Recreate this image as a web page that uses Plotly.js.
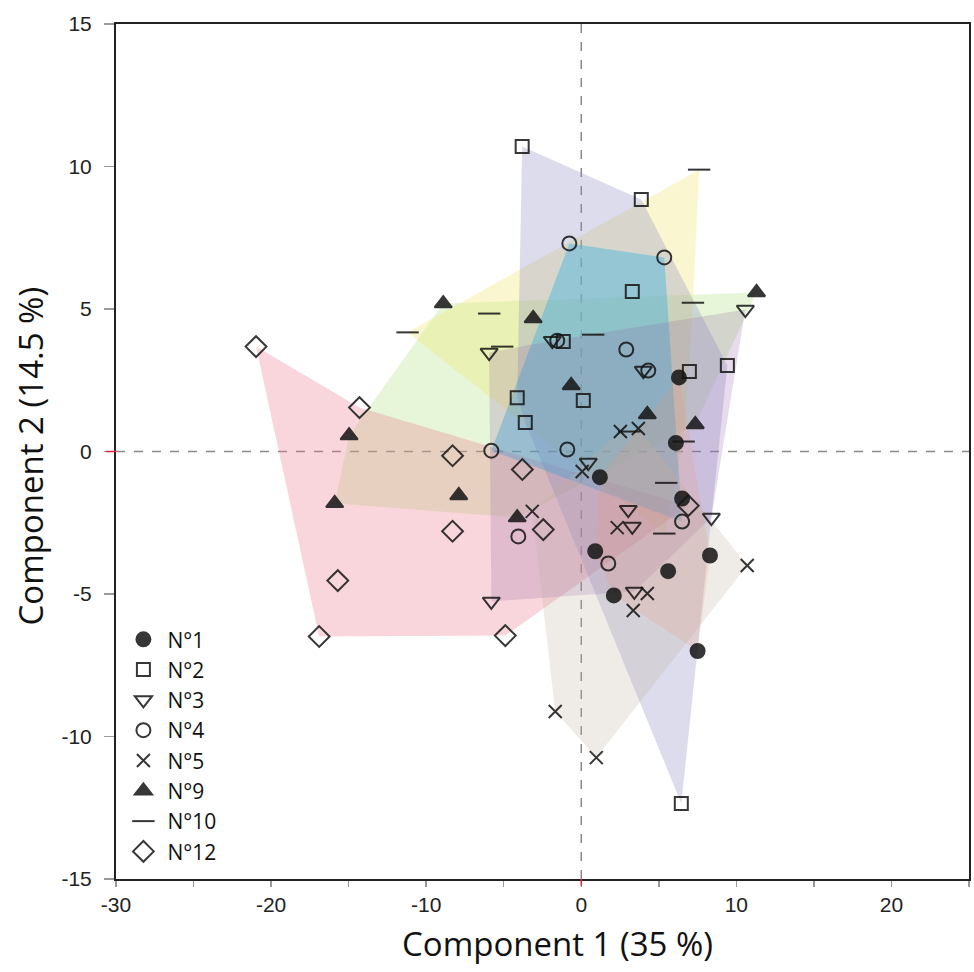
<!DOCTYPE html>
<html>
<head>
<meta charset="utf-8">
<script src="https://cdn.plot.ly/plotly-3.0.1.min.js"></script>
<style>html,body{margin:0;padding:0;background:#fff;}#chart{width:974px;height:972px;}</style>
</head>
<body>
<div id="chart"></div>
<script>
// ---- data (Component 1, Component 2) ----
const groupNames = ["N°1", "N°2", "N°3", "N°4", "N°5", "N°9", "N°10", "N°12"];

const n1x = [6.3, 6.1, 1.2, 6.5, 0.9, 8.3, 5.6, 2.1, 7.5];
const n1y = [2.6, 0.3, -0.9, -1.65, -3.5, -3.65, -4.2, -5.05, -7.0];

const n2x = [-3.81, 3.87, 3.29, 6.97, 9.42, -1.16, -4.13, -3.61, 0.13, 6.45];
const n2y = [10.70, 8.84, 5.61, 2.81, 3.02, 3.86, 1.89, 1.02, 1.79, -12.35];

const n3x = [10.58, -5.94, -1.87, 4.0, 0.45, 3.03, 3.29, 8.39, 3.42, -5.8];
const n3y = [4.98, 3.47, 3.89, 2.84, -0.39, -2.04, -2.63, -2.32, -4.91, -5.26];

const n4x = [-0.77, 5.35, 2.9, -1.55, 4.32, -5.8, -0.9, 6.5, 1.74, -4.06];
const n4y = [7.3, 6.81, 3.58, 3.89, 2.84, 0.03, 0.07, -2.46, -3.93, -2.98];

const n5x = [2.52, 3.68, 0.06, -3.16, 2.32, 10.7, 4.26, 3.35, -1.68, 0.97];
const n5y = [0.7, 0.81, -0.7, -2.1, -2.67, -4.0, -4.98, -5.58, -9.12, -10.74];

const n9x = [-8.9, -14.97, -3.1, 11.3, -0.65, 4.26, 7.35, -15.9, -7.9, -4.13];
const n9y = [5.19, 0.56, 4.67, 5.58, 2.32, 1.3, 0.95, -1.82, -1.54, -2.32];

const n10x = [-11.2, -5.94, -5.1, 0.77, 7.6, 7.2, 6.6, 5.48, 5.35, 3.1];
const n10y = [4.18, 4.84, 3.68, 4.1, 9.89, 5.22, 0.35, -1.1, -2.88, 0.7];

const n12x = [-20.97, -14.3, -8.3, -3.8, -8.3, -2.45, -15.7, -16.9, -4.9, 6.9];
const n12y = [3.68, 1.54, -0.15, -0.63, -2.8, -2.74, -4.53, -6.49, -6.46, -1.9];

// outline of each group's shaded area (indices into the group's points)
const hull1 = [0, 5, 8, 7, 4, 2];
const hull2 = [0, 1, 4, 9, 7, 6];
const hull3 = [0, 7, 8, 9, 1, 2];
const hull4 = [0, 1, 7, 5];
const hull5 = [0, 1, 5, 9, 8, 3];
const hull9 = [0, 3, 6, 9, 7, 1];
const hull10 = [0, 4, 5, 6, 8];
const hull12 = [0, 1, 9, 8, 7];

const tickValsX = [-30, -20, -10, 0, 10, 20];
const tickTextX = ["-30", "-20", "-10", "0", "10", "20"];
const tickValsY = [-15, -10, -5, 0, 5, 10, 15];
const tickTextY = ["-15", "-10", "-5", "0", "5", "10", "15"];

// ---- styles ----
const groups = [
  {name: groupNames[0], x: n1x, y: n1y, hull: hull1, symbol: "circle", size: 14, fill: "rgba(238,150,120,0.20)"},
  {name: groupNames[1], x: n2x, y: n2y, hull: hull2, symbol: "square-open", size: 13, fill: "rgba(140,140,195,0.30)"},
  {name: groupNames[2], x: n3x, y: n3y, hull: hull3, symbol: "triangle-down-open", size: 15, fill: "rgba(140,95,165,0.22)"},
  {name: groupNames[3], x: n4x, y: n4y, hull: hull4, symbol: "circle-open", size: 14, fill: "rgba(50,175,225,0.40)"},
  {name: groupNames[4], x: n5x, y: n5y, hull: hull5, symbol: "x-thin", size: 13, fill: "rgba(190,175,160,0.25)"},
  {name: groupNames[5], x: n9x, y: n9y, hull: hull9, symbol: "triangle-up", size: 15, fill: "rgba(170,222,120,0.28)"},
  {name: groupNames[6], x: n10x, y: n10y, hull: hull10, symbol: "line-ew", size: 16, fill: "rgba(238,230,100,0.30)"},
  {name: groupNames[7], x: n12x, y: n12y, hull: hull12, symbol: "diamond-open", size: 16, fill: "rgba(235,120,140,0.30)"}
];
const fillOrder = [5, 6, 7, 1, 3, 2, 4, 0];

const traces = [];
fillOrder.forEach(i => {
  const g = groups[i];
  const px = g.hull.map(k => g.x[k]);
  const py = g.hull.map(k => g.y[k]);
  px.push(px[0]); py.push(py[0]);
  traces.push({
    type: "scatter", mode: "lines", x: px, y: py, fill: "toself",
    fillcolor: g.fill, line: {width: 0, color: g.fill},
    showlegend: false, hoverinfo: "skip"
  });
});
groups.forEach(g => {
  traces.push({
    type: "scatter", mode: "markers", name: g.name, x: g.x, y: g.y,
    marker: {symbol: g.symbol, size: g.size, color: "#141414", opacity: 0.85,
             line: {color: "#141414", width: 2}},
    hoverinfo: "x+y+name"
  });
});

const tickFont = {family: "Liberation Sans Narrow, Liberation Sans, Arial, sans-serif", size: 21, color: "#222"};
const layout = {
  width: 974, height: 972,
  margin: {l: 116, r: 5, t: 24, b: 93},
  paper_bgcolor: "#fff", plot_bgcolor: "#fff",
  showlegend: true,
  legend: {x: 0.004, y: 0.008, xanchor: "left", yanchor: "bottom", traceorder: "normal",
           bgcolor: "rgba(0,0,0,0)", font: {family: "Open Sans, sans-serif", size: 21, color: "#111"},
           itemwidth: 38},
  xaxis: {range: [-30, 25], tickvals: tickValsX, ticktext: tickTextX, ticks: "outside", ticklen: 6,
          tickcolor: "#999", tickwidth: 1.5,
          minor: {dtick: 5, tick0: 0, ticks: "outside", ticklen: 6, tickcolor: "#999", tickwidth: 1.5},
          showgrid: false, zeroline: false, showline: true, linecolor: "#222", linewidth: 2, mirror: true,
          tickfont: tickFont},
  yaxis: {range: [-15, 15], tickvals: tickValsY, ticktext: tickTextY, ticks: "outside", ticklen: 10,
          tickcolor: "#999", tickwidth: 1.5, ticklabelstandoff: 8,
          showgrid: false, zeroline: false, showline: true, linecolor: "#222", linewidth: 2, mirror: true,
          tickfont: tickFont},
  shapes: [
    {type: "line", xref: "x", yref: "y", x0: 0, x1: 0, y0: -15, y1: 15, layer: "below",
     line: {color: "#8a8a8a", width: 1.5, dash: "dash"}},
    {type: "line", xref: "x", yref: "y", x0: -30, x1: 25, y0: 0, y1: 0, layer: "below",
     line: {color: "#8a8a8a", width: 1.5, dash: "dash"}},
    {type: "line", xref: "x", yref: "paper", x0: 0, x1: 0, y0: 0, y1: -0.008, layer: "above",
     line: {color: "#e0203a", width: 1.5}},
    {type: "line", xref: "paper", yref: "y", x0: -0.012, x1: 0, y0: 0, y1: 0, layer: "above",
     line: {color: "#e0203a", width: 1.5}}
  ],
  annotations: [
    {text: "Component 1 (35 %)", xref: "paper", yref: "paper", x: 0.517, y: -0.075,
     xanchor: "center", yanchor: "middle", showarrow: false,
     font: {family: "Open Sans, sans-serif", size: 33, color: "#111"}},
    {text: "Component 2 (14.5 %)", xref: "paper", yref: "paper", x: -0.1, y: 0.495,
     xanchor: "center", yanchor: "middle", showarrow: false, textangle: -90,
     font: {family: "Open Sans, sans-serif", size: 33, color: "#111"}}
  ]
};

Plotly.newPlot("chart", traces, layout, {displayModeBar: false, staticPlot: true});
</script>
</body>
</html>
